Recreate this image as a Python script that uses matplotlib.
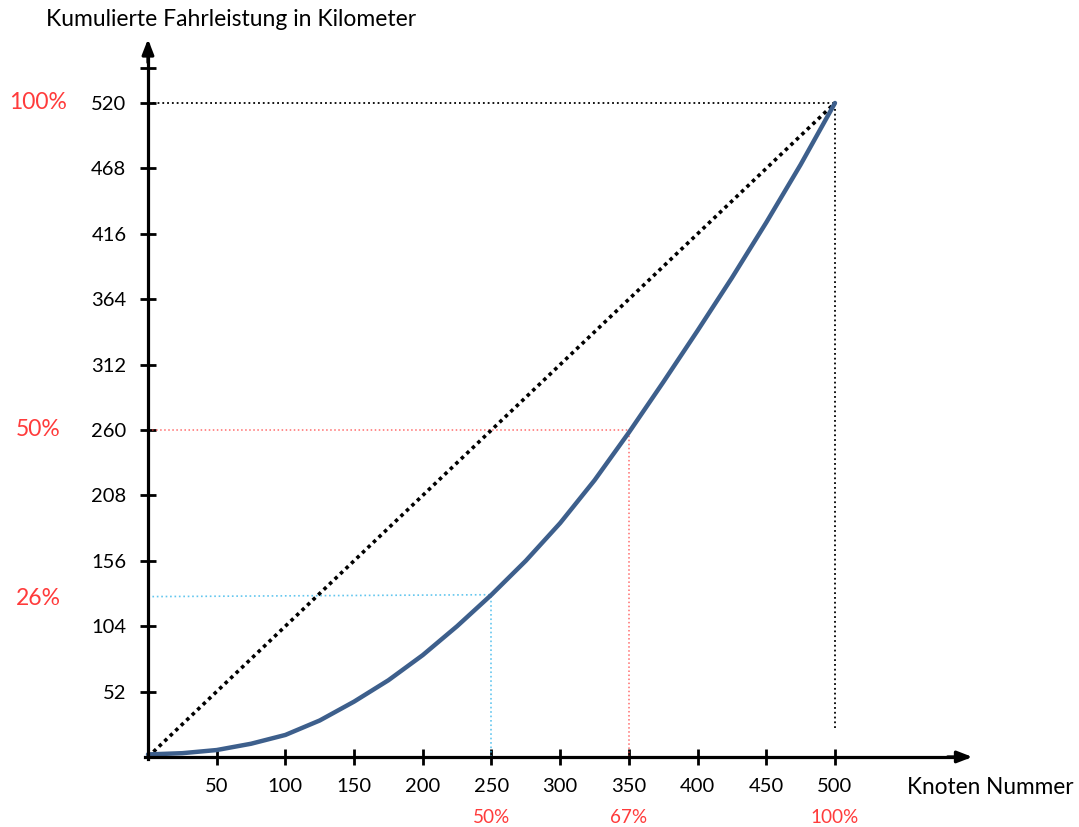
import numpy as np
import matplotlib.pyplot as plt

plt.rcParams['font.family'] = ['Lato', 'DejaVu Sans']

# cumulative mileage curve
knoten = [0, 25, 50, 75, 100, 125, 150, 175, 200, 225, 250, 275, 300,
          325, 350, 375, 400, 425, 450, 475, 500]
fahrleistung = [2, 3, 5.5, 10.5, 17.5, 29, 44, 61, 81, 104, 129, 156, 186,
                220, 258, 298, 339, 381, 425, 471, 520]

x_ticks = [50, 100, 150, 200, 250, 300, 350, 400, 450, 500]
y_ticks = [52, 104, 156, 208, 260, 312, 364, 416, 468, 520, 548]
y_tick_labels = ['52', '104', '156', '208', '260', '312', '364', '416', '468', '520', '']

total_km = 520
total_knoten = 500
half_km = 260
half_knoten = 350
quarter_km = 129
quarter_knoten = 250

x_pct_pos = [250, 350, 500]
x_pct_labels = ['50%', '67%', '100%']
y_pct_pos = [520, 260, 126]
y_pct_labels = ['100%', '50%', '26%']

red = '#ff3b3b'
curve_color = '#3d5f8c'

fig = plt.figure(figsize=(10.79, 8.27), dpi=100)
ax = fig.add_axes([0, 0, 1, 1])
ax.set_xlim(-107.7, 677.6)
ax.set_ylim(-55.7, 601.9)

for side in ['top', 'right']:
    ax.spines[side].set_visible(False)
ax.spines['left'].set_position(('data', 0))
ax.spines['bottom'].set_position(('data', 0))
ax.spines['left'].set_bounds(-2, 566)
ax.spines['bottom'].set_bounds(-2, 595)
ax.spines['left'].set_linewidth(2.3)
ax.spines['bottom'].set_linewidth(2.3)

# arrow heads
ax.annotate('', xy=(0, 573), xytext=(0, 550),
            arrowprops=dict(arrowstyle='-|>,head_length=0.9,head_width=0.35',
                            color='black', lw=2.3))
ax.annotate('', xy=(602, 0), xytext=(580, 0),
            arrowprops=dict(arrowstyle='-|>,head_length=0.9,head_width=0.35',
                            color='black', lw=2.3))

ax.set_xticks(x_ticks)
ax.set_xticklabels([str(v) for v in x_ticks])
ax.set_yticks(y_ticks)
ax.set_yticklabels(y_tick_labels)
ax.tick_params(axis='both', direction='inout', length=12, width=2,
               labelsize=14.5, colors='black')
ax.tick_params(axis='y', pad=9.5)
ax.tick_params(axis='x', pad=9)

# guide lines
ax.plot([0, total_knoten], [total_km, total_km], color='black', lw=1.3, ls=':')
ax.plot([total_knoten, total_knoten], [23, total_km], color='black', lw=1.3, ls=':')
ax.plot([0, half_knoten], [half_km, half_km], color=red, lw=1.1, ls=':', alpha=0.75)
ax.plot([half_knoten, half_knoten], [0, half_km], color=red, lw=1.1, ls=':', alpha=0.75)
ax.plot([0, quarter_knoten], [quarter_km - 1.5, quarter_km], color='#3cb8ea', lw=1.2,
        ls=':', alpha=0.8)
ax.plot([quarter_knoten, quarter_knoten], [0, quarter_km], color='#3cb8ea', lw=1.2,
        ls=':', alpha=0.8)

# equal distribution line
ax.plot([0, total_knoten], [0, total_km], color='black', lw=2.6, ls=(0, (1, 1.1)))

# cumulative curve
ax.plot(knoten, fahrleistung, color=curve_color, lw=3.2,
        solid_capstyle='round', solid_joinstyle='round')

# axis titles
ax.text(60.4, 586, 'Kumulierte Fahrleistung in Kilometer', fontsize=16.5,
        ha='center', va='center')
ax.text(613, -24.6, 'Knoten Nummer', fontsize=16.3, ha='center', va='center')

# percent labels
for xp, lab in zip(x_pct_pos, x_pct_labels):
    ax.text(xp, -48.5, lab, color=red, fontsize=13.6, ha='center', va='center')
for yp, lab in zip(y_pct_pos, y_pct_labels):
    ax.text(-79.7, yp, lab, color=red, fontsize=16.5, ha='center', va='center')

fig.savefig('out.png', dpi=100)
